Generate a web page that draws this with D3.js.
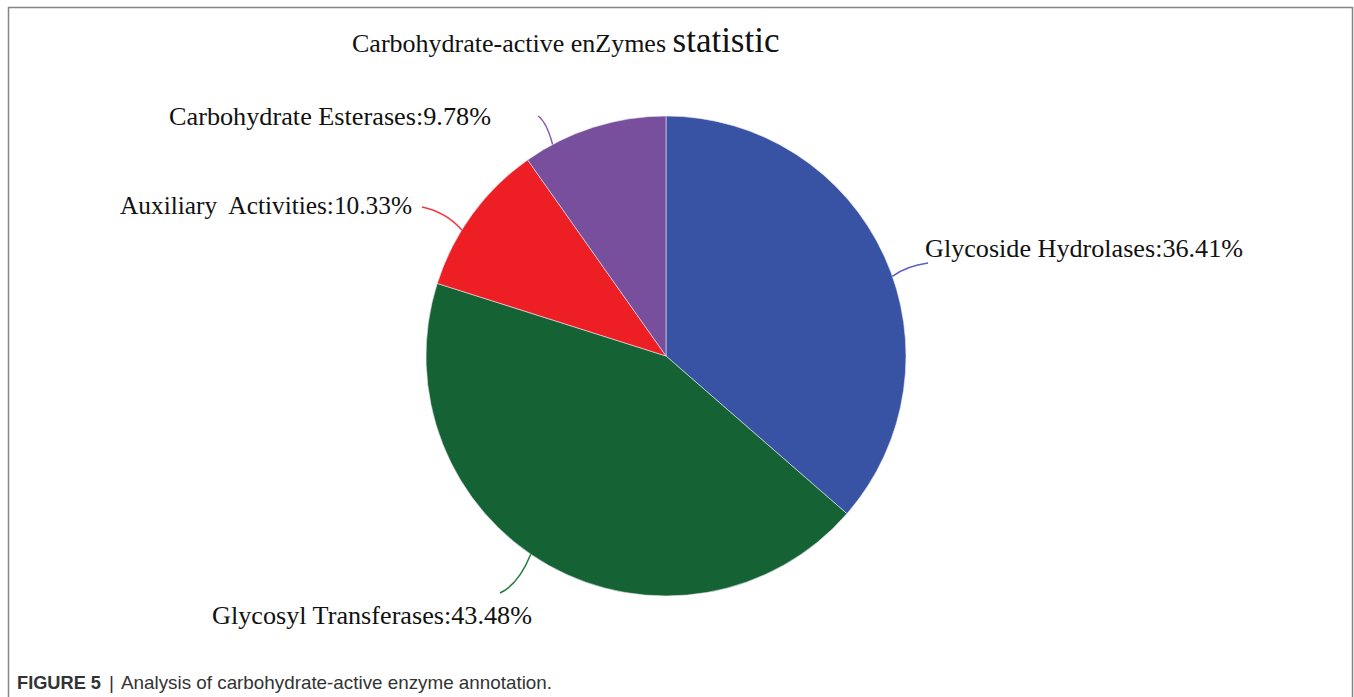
<!DOCTYPE html>
<html>
<head>
<meta charset="utf-8">
<script src="https://cdn.jsdelivr.net/npm/d3@7"></script>
<style>
  html, body { margin: 0; padding: 0; background: #ffffff; }
  svg { display: block; }
  text { white-space: pre; }
</style>
</head>
<body>
<svg id="chart" width="1354" height="697"></svg>
<script>
// ---- data ----
const categories = ["Glycoside Hydrolases", "Glycosyl Transferases", "Auxiliary  Activities", "Carbohydrate Esterases"];
const percents = [36.41, 43.48, 10.33, 9.78];
const titleMain = "Carbohydrate-active enZymes ";
const titleTail = "statistic";
const captionBold = "FIGURE 5";
const captionText = "Analysis of carbohydrate-active enzyme annotation.";

// ---- styles / layout ----
const sliceColors = ["#3953A4", "#156334", "#ED1F24", "#774F9D"];
const leaderColors = ["#5A60C4", "#1F7A3A", "#EE3B40", "#8A5AA8"];
const W = 1354, H = 697;
const cx = 666, cy = 356, R = 240;
// leader-line anchor angle on the rim (degrees, clockwise from 12 o'clock)
const leaderAngles = [70.6, 214.3, 301.7, 331.8];
// leader end points and label anchors
const leaderEnds = [[928, 263], [500, 593], [422, 207], [538, 116]];
const labelPos = [[925, 257, "start"], [212, 624, "start"], [412, 214, "end"], [491, 125, "end"]];
const labelWidths = [318, 320, 292, 322];

const svg = d3.select("#chart");

// frame (open at bottom)
svg.append("path")
  .attr("d", `M8.5,${H} L8.5,7.5 L1352.5,7.5 L1352.5,${H}`)
  .attr("fill", "none")
  .attr("stroke", "#858585")
  .attr("stroke-width", 1.5);

// title
const title = svg.append("text")
  .attr("x", 352).attr("y", 52)
  .attr("font-family", "'Liberation Serif', 'Times New Roman', serif")
  .attr("font-size", 26)
  .attr("fill", "#111");
title.append("tspan").text(titleMain);
title.append("tspan").attr("font-size", 35).text(titleTail);

// pie
const pie = d3.pie().sort(null).value(d => d).startAngle(0).endAngle(2 * Math.PI);
const arcs = pie(percents);
const arc = d3.arc().innerRadius(0).outerRadius(R);

const g = svg.append("g").attr("transform", `translate(${cx},${cy})`);
g.selectAll("path.slice")
  .data(arcs)
  .join("path")
  .attr("class", "slice")
  .attr("d", arc)
  .attr("fill", (d, i) => sliceColors[i])
  .attr("stroke", "#e8e8f0")
  .attr("stroke-width", 0.6);

// leader lines (curved: steep near the rim, flattening toward the label)
const deg = Math.PI / 180;
svg.selectAll("path.leader")
  .data(arcs)
  .join("path")
  .attr("class", "leader")
  .attr("fill", "none")
  .attr("stroke", (d, i) => leaderColors[i])
  .attr("stroke-width", 1.5)
  .attr("d", (d, i) => {
    const a = leaderAngles[i] * deg;
    const sx = cx + R * Math.sin(a), sy = cy - R * Math.cos(a);
    const [ex, ey] = leaderEnds[i];
    const kx = sx + (ex - sx) * 0.4, ky = sy + (ey - sy) * 0.78;
    return `M${sx},${sy} Q${kx},${ky} ${ex},${ey}`;
  });

// labels
svg.selectAll("text.label")
  .data(arcs)
  .join("text")
  .attr("class", "label")
  .attr("x", (d, i) => labelPos[i][0])
  .attr("y", (d, i) => labelPos[i][1])
  .attr("text-anchor", (d, i) => labelPos[i][2])
  .attr("font-family", "'Liberation Serif', 'Times New Roman', serif")
  .attr("font-size", 26)
  .attr("fill", "#111")
  .attr("textLength", (d, i) => labelWidths[i])
  .attr("lengthAdjust", "spacingAndGlyphs")
  .text((d, i) => `${categories[i]}:${percents[i].toFixed(2)}%`);

// caption
const capFont = "'Liberation Sans', Arial, sans-serif";
svg.append("text")
  .attr("x", 17).attr("y", 689)
  .attr("font-family", capFont)
  .attr("font-size", 19)
  .attr("font-weight", "bold")
  .attr("fill", "#333")
  .attr("textLength", 84)
  .attr("lengthAdjust", "spacingAndGlyphs")
  .text(captionBold);
svg.append("text")
  .attr("x", 109).attr("y", 689)
  .attr("font-family", capFont)
  .attr("font-size", 19)
  .attr("fill", "#333")
  .text("|");
svg.append("text")
  .attr("x", 121).attr("y", 689)
  .attr("font-family", capFont)
  .attr("font-size", 19)
  .attr("fill", "#333")
  .attr("textLength", 431)
  .attr("lengthAdjust", "spacingAndGlyphs")
  .text(captionText);
</script>
</body>
</html>
